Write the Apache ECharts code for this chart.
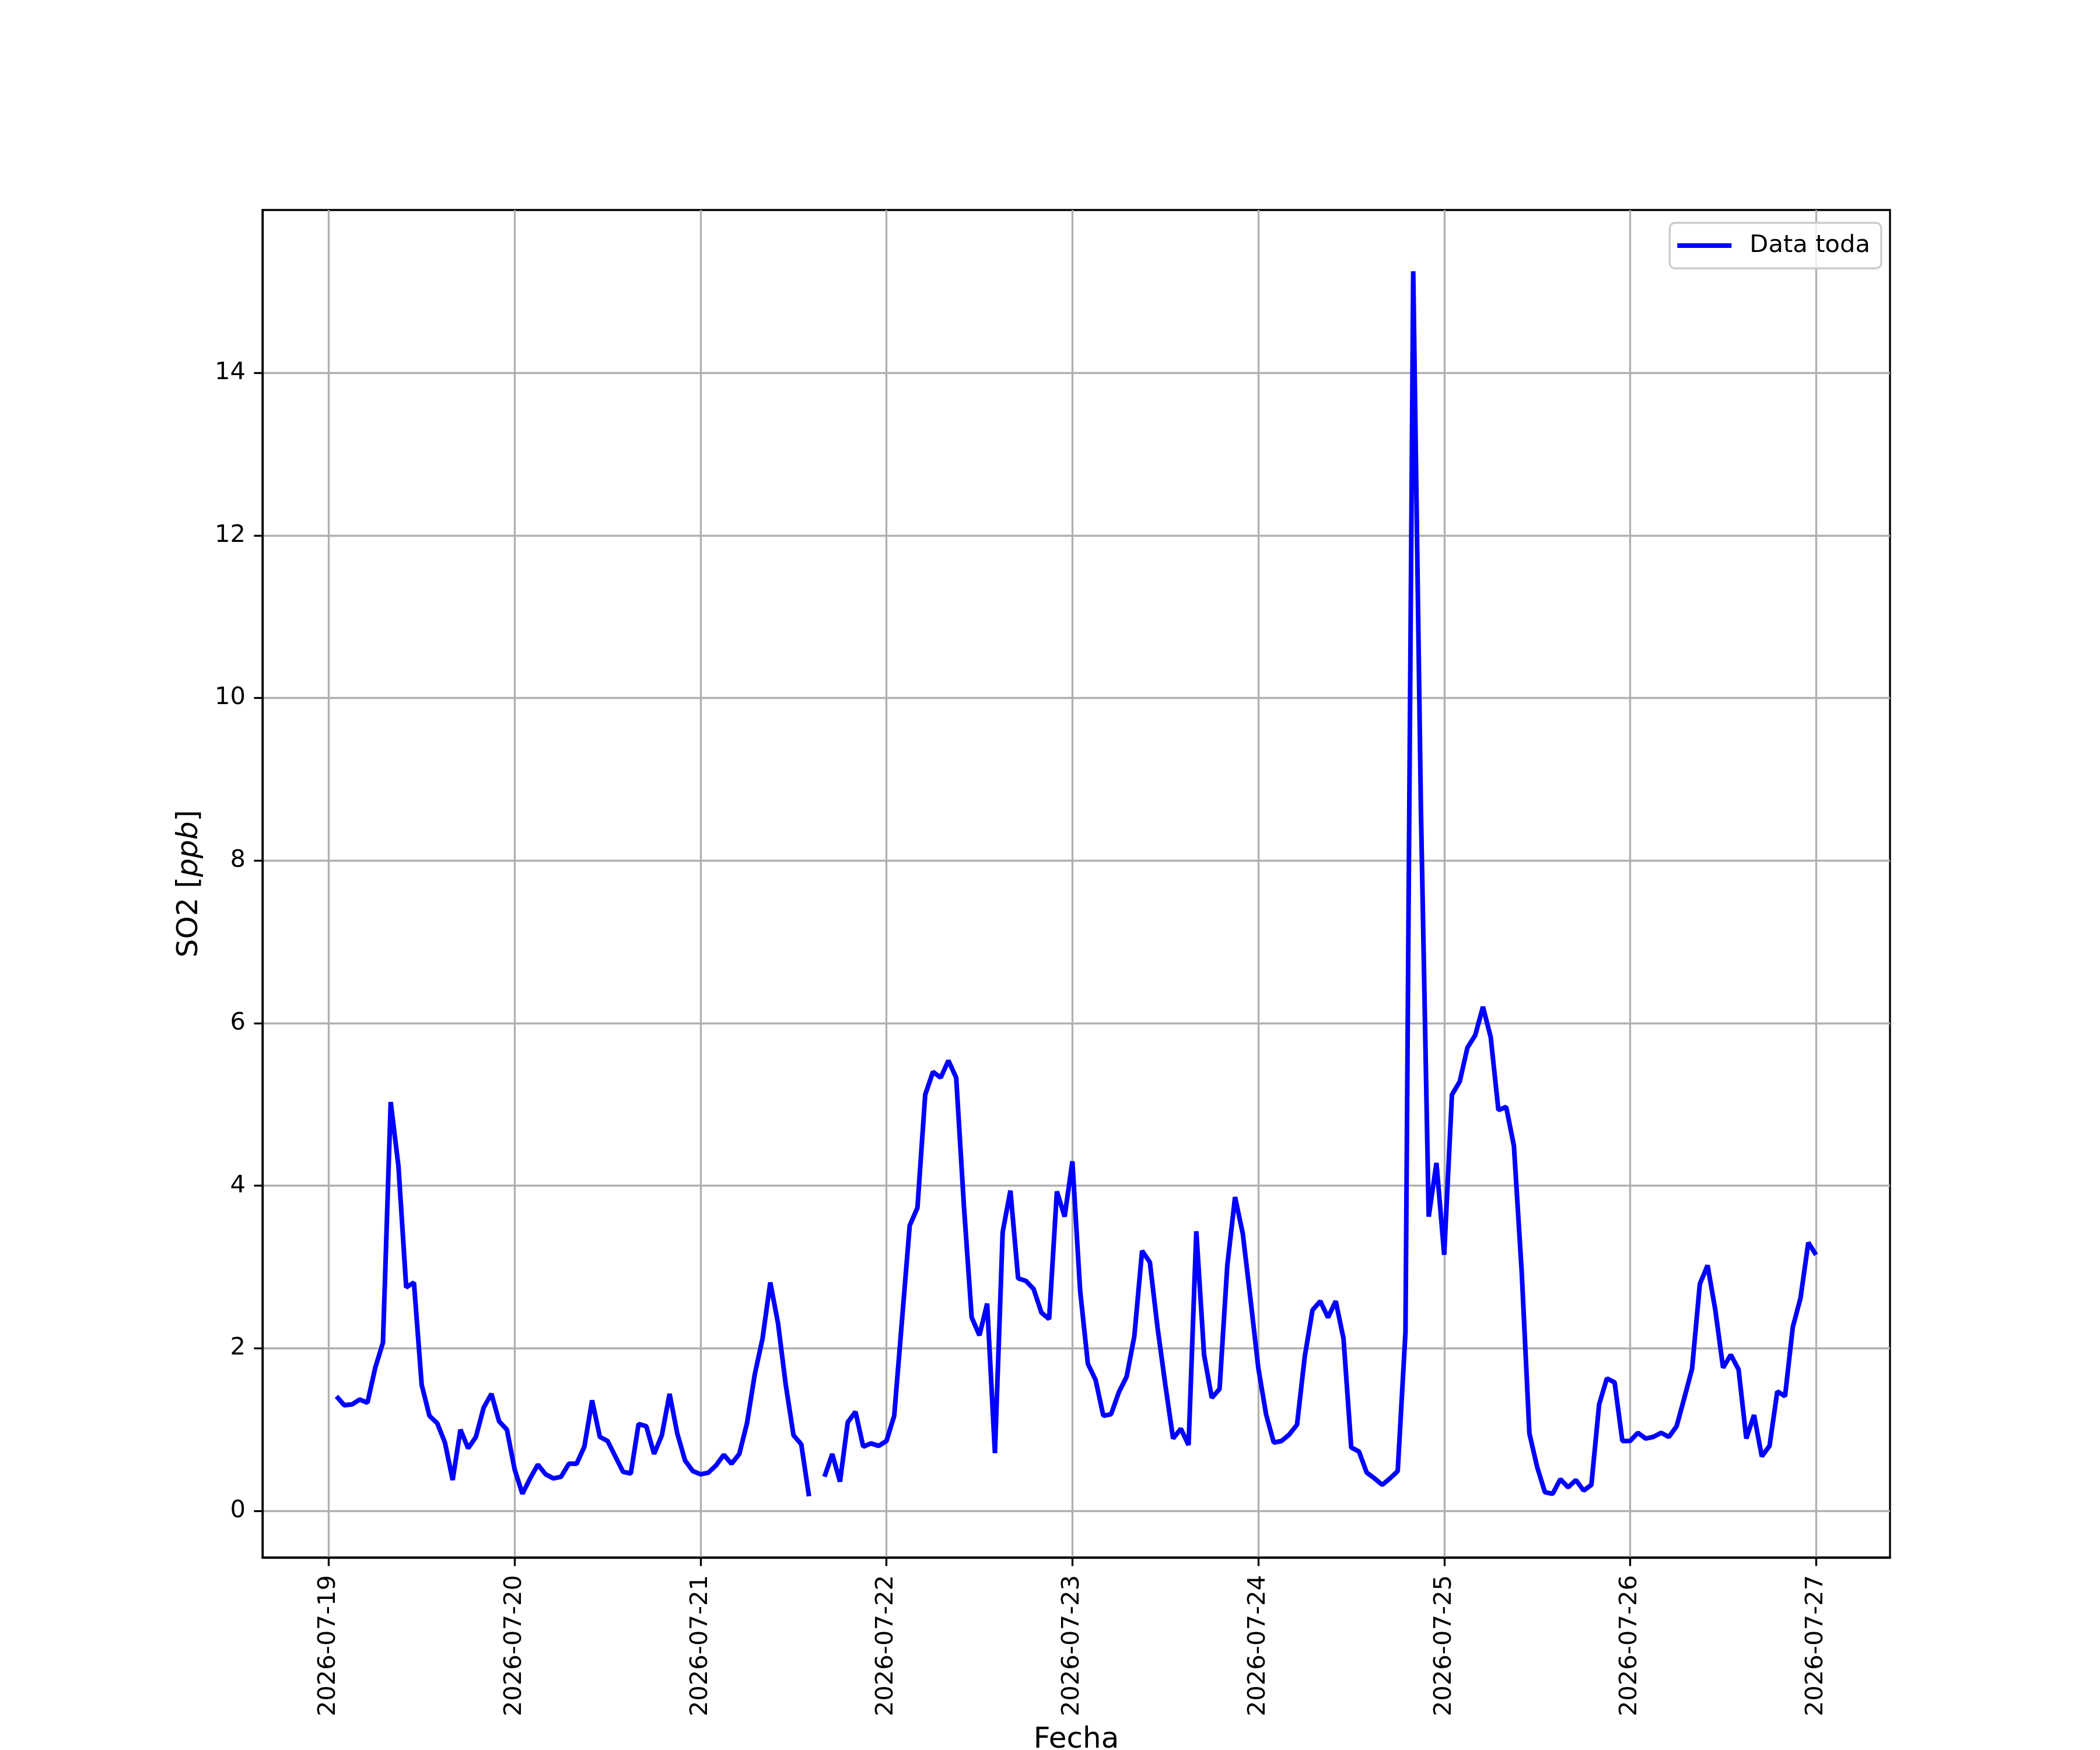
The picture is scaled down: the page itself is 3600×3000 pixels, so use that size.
<!DOCTYPE html>
<html><head><meta charset="utf-8">
<script src="https://cdn.jsdelivr.net/npm/echarts@6/dist/echarts.min.js"></script>
<style>html,body{margin:0;padding:0;background:#fff}#c{width:3600px;height:3000px}</style>
</head><body><div id="c"></div>
<script>
// hourly SO2 readings starting 2026-07-19 01:00 (UTC)
const startTime = '2026-07-19T01:00:00Z';
const so2Jul19 = [1.41, 1.30, 1.31, 1.37, 1.33, 1.76, 2.07, 5.03, 4.24, 2.75, 2.81, 1.55, 1.17, 1.08, 0.84, 0.38, 1.00, 0.77, 0.91, 1.27, 1.44, 1.10, 1.00, 0.51];
const so2Jul20 = [0.21, 0.40, 0.57, 0.45, 0.40, 0.42, 0.58, 0.58, 0.79, 1.36, 0.91, 0.86, 0.67, 0.48, 0.46, 1.07, 1.04, 0.70, 0.93, 1.44, 0.95, 0.62, 0.49, 0.45];
const so2Jul21 = [0.47, 0.56, 0.69, 0.58, 0.70, 1.08, 1.68, 2.12, 2.81, 2.31, 1.55, 0.93, 0.82, 0.18, null, 0.42, 0.70, 0.36, 1.09, 1.22, 0.79, 0.83, 0.80, 0.86];
const so2Jul22 = [1.17, 2.34, 3.51, 3.73, 5.12, 5.40, 5.33, 5.54, 5.33, 3.75, 2.38, 2.16, 2.55, 0.71, 3.43, 3.94, 2.86, 2.83, 2.73, 2.44, 2.36, 3.93, 3.62, 4.30];
const so2Jul23 = [2.71, 1.81, 1.61, 1.17, 1.19, 1.46, 1.65, 2.15, 3.20, 3.06, 2.25, 1.55, 0.89, 1.01, 0.81, 3.44, 1.92, 1.39, 1.50, 3.02, 3.86, 3.41, 2.60, 1.76];
const so2Jul24 = [1.19, 0.84, 0.86, 0.94, 1.06, 1.90, 2.47, 2.58, 2.38, 2.58, 2.12, 0.78, 0.73, 0.47, 0.40, 0.32, 0.40, 0.49, 2.20, 15.25, 8.60, 3.62, 4.28, 3.15];
const so2Jul25 = [5.12, 5.28, 5.70, 5.85, 6.20, 5.83, 4.93, 4.97, 4.49, 2.95, 0.95, 0.54, 0.23, 0.21, 0.39, 0.29, 0.38, 0.25, 0.32, 1.31, 1.63, 1.58, 0.86, 0.86];
const so2Jul26 = [0.96, 0.89, 0.91, 0.96, 0.91, 1.04, 1.39, 1.75, 2.79, 3.02, 2.47, 1.76, 1.92, 1.74, 0.89, 1.18, 0.67, 0.80, 1.47, 1.41, 2.26, 2.62, 3.30, 3.15];

const xTickLabels = ['2026-07-19', '2026-07-20', '2026-07-21', '2026-07-22', '2026-07-23', '2026-07-24', '2026-07-25', '2026-07-26', '2026-07-27'];
const yTickValues = [0, 2, 4, 6, 8, 10, 12, 14];
const seriesName = 'Data toda';
const xAxisName = 'Fecha';
const yAxisName = 'SO2 [{i|ppb}]';

const HOUR = 3600 * 1000;
const values = [].concat(so2Jul19, so2Jul20, so2Jul21, so2Jul22, so2Jul23, so2Jul24, so2Jul25, so2Jul26);
const t0 = Date.parse(startTime);
const seriesData = values.map((v, i) => [t0 + i * HOUR, v]);
const xTickValues = xTickLabels.map(s => Date.parse(s + 'T00:00:00Z'));

const tFirst = seriesData[0][0], tLast = seriesData[seriesData.length - 1][0];
const xPad = (tLast - tFirst) * 0.05;
const finite = values.filter(v => v !== null);
const vMin = Math.min.apply(null, finite), vMax = Math.max.apply(null, finite);
const yPad = (vMax - vMin) * 0.05;

const FONT = 'DejaVu Sans';
const chart = echarts.init(document.getElementById('c'), null, {renderer: 'canvas'});
chart.setOption({
  animation: false,
  backgroundColor: '#ffffff',
  grid: {left: 450, right: 360, top: 360, bottom: 330, containLabel: false, outerBoundsMode: 'none',
         show: true, borderColor: '#000', borderWidth: 3.3, backgroundColor: 'transparent'},
  legend: {
    show: true, right: 375, top: 382, orient: 'vertical',
    itemWidth: 93, itemHeight: 8,
    padding: [18, 19, 18, 13],
    backgroundColor: 'rgba(255,255,255,0.8)', borderColor: '#cccccc', borderWidth: 3.3, borderRadius: 9,
    itemStyle: {color: '#0000ff', borderWidth: 0},
    textStyle: {fontSize: 41.7, fontFamily: FONT, color: '#000', padding: [0, 0, 0, 26]},
    data: [{name: seriesName, icon: 'rect'}]
  },
  xAxis: {
    type: 'value', min: tFirst - xPad, max: tLast + xPad,
    name: xAxisName, nameLocation: 'middle', nameGap: 288,
    nameTextStyle: {fontSize: 50, fontFamily: FONT, color: '#000'},
    axisLine: {show: true, onZero: false, lineStyle: {color: '#000', width: 3.3}},
    axisTick: {show: true, customValues: xTickValues, length: 14.6, lineStyle: {color: '#000', width: 3.3}},
    axisLabel: {
      customValues: xTickValues, rotate: 90, margin: 30, fontSize: 41.7, fontFamily: FONT, color: '#000',
      formatter: v => { const k = xTickValues.indexOf(v); return k >= 0 ? xTickLabels[k] : ''; }
    },
    splitLine: {show: true, lineStyle: {color: '#b0b0b0', width: 3.3}}
  },
  yAxis: {
    type: 'value', min: vMin - yPad, max: vMax + yPad,
    name: yAxisName, nameLocation: 'middle', nameGap: 100, nameRotate: 90,
    nameTextStyle: {fontSize: 50, fontFamily: FONT, color: '#000', rich: {i: {fontSize: 50, fontFamily: FONT, fontStyle: 'italic', color: '#000'}}},
    axisLine: {show: true, onZero: false, lineStyle: {color: '#000', width: 3.3}},
    axisTick: {show: true, customValues: yTickValues, length: 14.6, lineStyle: {color: '#000', width: 3.3}},
    axisLabel: {customValues: yTickValues, margin: 29, fontSize: 41.7, fontFamily: FONT, color: '#000'},
    splitLine: {show: true, lineStyle: {color: '#b0b0b0', width: 3.3}}
  },
  series: [{
    name: seriesName, type: 'line', data: seriesData,
    showSymbol: false, symbol: 'none', connectNulls: false,
    lineStyle: {color: '#0000ff', width: 8}, itemStyle: {color: '#0000ff'},
    clip: true, z: 3
  }]
});
</script></body></html>
